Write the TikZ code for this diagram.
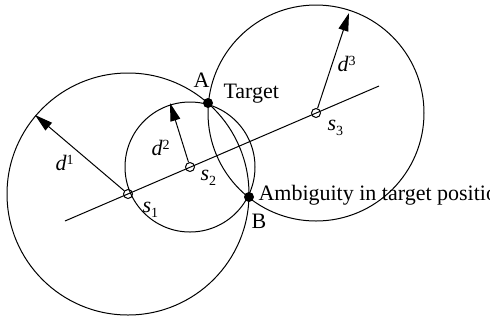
\documentclass[tikz,border=0pt]{standalone}
\usepackage{fontspec}
\setmainfont{Liberation Serif}
\usetikzlibrary{arrows.meta}
\newcommand\dlab[1]{\textit{d}\raisebox{5.5pt}{\fontsize{14}{15}\selectfont #1}}
\newcommand\slab[1]{\textit{s}\raisebox{-5pt}{\fontsize{14}{15}\selectfont #1}}
\begin{document}
\begin{tikzpicture}[x=1pt,y=-1pt, line width=1pt,
  lbl/.style={anchor=base west, inner sep=0pt, font=\fontsize{22}{26}\selectfont},
  radarrow/.style={-{Triangle[length=18pt,width=10pt]}, shorten <=0pt},
  station/.style={circle, draw, minimum size=9pt, inner sep=0pt, line width=1pt},
  hit/.style={circle, fill, minimum size=10pt, inner sep=0pt}]
\clip (0,0) rectangle (490,325);
% stations
\node[station] (s1) at (128,194) {};
\node[station] (s2) at (190,167) {};
\node[station] (s3) at (316,113) {};
% range circles
\draw (128,194) circle[radius=121pt];
\draw (190,167) circle[radius=65pt];
\draw (316,113) circle[radius=108pt];
% baseline
\coordinate (l0) at (65,221);
\coordinate (l1) at (379,86);
\draw (l0) -- (l1);
% radius arrows
\coordinate (t1) at (35,115);
\coordinate (t2) at (170,103);
\coordinate (t3) at (349,13);
\draw[radarrow] (s1) -- (t1);
\draw[radarrow] (s2) -- (t2);
\draw[radarrow] (s3) -- (t3);
% intersection points
\node[hit] (A) at (208,103) {};
\node[hit] (B) at (249,197) {};
% labels
\node[lbl] (ld1) at (55,170) {\dlab{1}};
\node[lbl] (ld2) at (151,155) {\dlab{2}};
\node[lbl] (ld3) at (337,71) {\dlab{3}};
\node[lbl] (ls1) at (142,212) {\slab{1}};
\node[lbl] (ls2) at (200,180) {\slab{2}};
\node[lbl] (ls3) at (327,130) {\slab{3}};
\node[lbl] (lA) at (193,87) {A};
\node[lbl] (lT) at (223,98) {Target};
\node[lbl] (lB) at (251,228) {B};
\node[lbl] (lAmb) at (258,200) {Ambiguity in target position};
\end{tikzpicture}
\end{document}
